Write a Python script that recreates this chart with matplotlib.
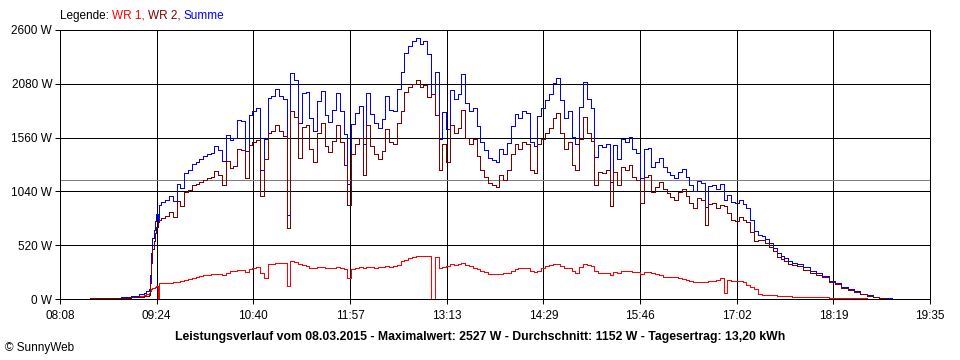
import matplotlib
matplotlib.use("Agg")
import matplotlib.pyplot as plt

plt.rcParams["font.family"] = ["Liberation Sans", "DejaVu Sans"]
plt.rcParams["font.size"] = 8.5

# time of day in minutes after midnight
minutes = [501, 512, 520, 528, 536, 544, 550, 554, 556, 558,
           559, 560, 561, 562, 563, 564, 565, 566, 568,
           571, 574, 577, 580, 583, 586, 589, 592, 595, 598, 601, 604,
           607, 610, 613, 616, 619, 622, 625, 628, 631, 634, 637, 640,
           643, 646, 649, 652, 655, 658, 661, 664, 667, 670,
           673, 676, 679, 682, 685, 688, 691, 694, 697, 700,
           703, 706, 709, 712, 715, 718, 721, 724, 727, 730,
           733, 736, 739, 742, 745, 748, 751, 754, 757, 760,
           763, 766, 769, 772, 775, 778, 781, 784, 787, 790,
           793, 796, 799, 802, 805, 808, 811, 814, 817, 820,
           823, 826, 829, 832, 835, 838, 841, 844, 847, 850,
           853, 856, 859, 862, 865, 868, 871, 874, 877, 880,
           883, 886, 889, 892, 895, 898, 901, 904, 907, 910,
           913, 916, 919, 922, 925, 928, 931, 934, 937, 940,
           943, 946, 949, 952, 955, 958, 961, 964, 967, 970,
           973, 976, 979, 982, 985, 988, 991, 994, 997, 1000,
           1003, 1006, 1009, 1012,
           1015, 1018, 1021, 1024, 1027, 1030, 1033, 1036, 1039, 1042,
           1045, 1048, 1051, 1054, 1057, 1060, 1063, 1066,
           1070, 1075, 1080, 1085, 1090, 1095, 1100, 1105, 1110, 1115,
           1120, 1125, 1130, 1135, 1140, 1145, 1147]

wr2 = [0, 5, 8, 10, 12, 15, 20, 25, 30, 40,
       150, 350, 480, 560, 640, 700, 740, 760, 780,
       800, 840, 790, 950, 900, 1030, 1050, 1100, 1110, 1130, 1150, 1170,
       1175, 1235, 1200, 1100, 1330, 1270, 1290, 1450, 1440, 1170, 1490, 1520,
       1540, 1000, 1350, 1600, 1620, 1680, 1620, 1580, 690, 1820,
       1760, 1360, 1660, 1680, 1450, 1320, 1600, 1700, 1480, 1420,
       1530, 1680, 1520, 1300, 910, 1400, 1500, 1560, 1200, 1680,
       1480, 1400, 1350, 1430, 1640, 1520, 1500, 1700, 1820, 2000,
       2050, 2080, 2112, 2050, 2070, 1950, 1980, 1780, 1250, 1500,
       1320, 1680, 1600, 1650, 1830, 1560, 1500, 1550, 1380, 1250,
       1180, 1120, 1100, 1080, 1200, 1150, 1250, 1400, 1500, 1450,
       1520, 1500, 1250, 1220, 1500, 1550, 1600, 1650, 1750, 1800,
       1600, 1450, 1520, 1300, 1250, 1550, 1760, 1600, 1530, 1100,
       1230, 1220, 1250, 900, 1230, 1100, 1280, 1250, 1300, 1180,
       1150, 930, 1180, 1200, 1030, 1080, 1130, 1060, 1020, 990,
       960, 1030, 1060, 1000, 930, 880, 980, 960, 720, 920,
       930, 880, 910, 900,
       830, 760, 750, 790, 760, 740, 650, 560, 570, 570,
       540, 500, 460, 410, 390, 370, 340, 330,
       320, 285, 250, 235, 210, 165, 145, 110, 90, 70,
       45, 30, 15, 8, 4, 2, 0]

wr1 = [0, 0, 0, 3, 8, 15, 25, 35, 45, 60,
       80, 95, 105, 110, 118, 125, 0, 150, 155,
       155, 158, 160, 165, 170, 185, 195, 205, 215, 225, 230, 235,
       240, 240, 238, 235, 255, 268, 270, 278, 280, 265, 290, 300,
       310, 250, 200, 340, 340, 345, 345, 350, 125, 365,
       360, 340, 330, 320, 300, 300, 310, 310, 300, 295,
       300, 310, 300, 290, 200, 290, 300, 310, 300, 310,
       305, 300, 305, 310, 320, 310, 315, 330, 370, 380,
       400, 410, 415, 415, 420, 415, 0, 410, 300, 310,
       320, 340, 330, 335, 345, 330, 320, 300, 290, 270,
       260, 245, 240, 240, 245, 250, 255, 270, 290, 300,
       300, 300, 270, 260, 270, 300, 320, 330, 335, 335,
       320, 300, 300, 270, 250, 310, 340, 330, 320, 270,
       255, 250, 250, 230, 260, 255, 270, 270, 270, 265,
       260, 240, 265, 260, 250, 240, 230, 215, 210, 210,
       210, 200, 195, 180, 170, 165, 165, 165, 165, 170,
       175, 185, 200, 60,
       180, 178, 175, 170, 160, 140, 115, 100, 45, 40,
       40, 38, 35, 32, 30, 28, 25, 22,
       20, 20, 20, 18, 15, 12, 10, 10, 8, 7,
       5, 4, 3, 2, 1, 0, 0]

summe = [a + b for a, b in zip(wr1, wr2)]
average_w = 1152

x_ticks = [488 + i * 687 / 9 for i in range(10)]
x_labels = ["08:08", "09:24", "10:40", "11:57", "13:13",
            "14:29", "15:46", "17:02", "18:19", "19:35"]
y_ticks = [0, 520, 1040, 1560, 2080, 2600]

fig = plt.figure(figsize=(9.6, 3.6), dpi=100)
ax = fig.add_axes([60 / 960, 1 - 299 / 360, 870 / 960, 269 / 360])

px = 0.72
ax.axhline(average_w, color="#808080", lw=px, zorder=1.5, antialiased=False)
for vals, col, z in [(wr1, "#ff0000", 3), (summe, "#0000ff", 4), (wr2, "#800000", 5)]:
    ax.plot(minutes, vals, color=col, lw=px, drawstyle="steps-post",
            zorder=z, antialiased=False)

ax.set_xlim(488, 1175)
ax.set_ylim(0, 2600)
ax.set_xticks(x_ticks)
ax.set_xticklabels(x_labels)
ax.set_yticks(y_ticks)
ax.set_yticklabels([f"{v} W" for v in y_ticks])
ax.grid(True, color="black", lw=px, zorder=1, antialiased=False)
ax.set_axisbelow(True)
for s in ax.spines.values():
    s.set_linewidth(px)
    s.set_color("black")
ax.tick_params(direction="out", length=3.6, width=px, color="black")
ax.tick_params(axis="y", pad=2)
ax.tick_params(axis="x", pad=4)

# coloured legend line above the plot
renderer = fig.canvas.get_renderer()
xpos = 60 / 960
for txt, col in [("Legende: ", "black"), ("WR 1, ", "#ff0000"),
                 ("WR 2, ", "#800000"), ("Summe", "#0000ff")]:
    t = fig.text(xpos, 1 - 16 / 360, txt, color=col, va="center", ha="left")
    bb = t.get_window_extent(renderer)
    xpos += bb.width / fig.bbox.width

fig.text(0.5, 1 - 337 / 360,
         "Leistungsverlauf vom 08.03.2015 - Maximalwert: 2527 W - Durchschnitt: 1152 W - Tagesertrag: 13,20 kWh",
         ha="center", va="center", fontweight="bold", fontsize=8.8)
fig.text(5 / 960, 1 - 348 / 360, "© SunnyWeb", ha="left", va="center")

fig.savefig("out.png", dpi=100, facecolor="white")
